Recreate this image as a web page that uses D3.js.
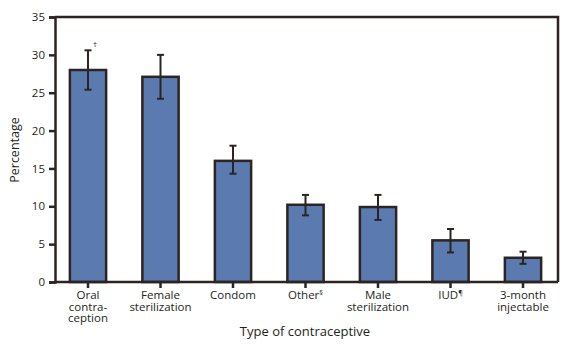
<!DOCTYPE html>
<html>
<head>
<meta charset="utf-8">
<script src="https://cdn.jsdelivr.net/npm/d3@7"></script>
<style>
  body { margin: 0; background: #fff; }
  text { font-family: "Open Sans", "Liberation Sans", sans-serif; fill: #231f20; }
</style>
</head>
<body>
<svg id="chart" width="577" height="346"></svg>
<script>
const categories = ["Oral|contra-|ception", "Female|sterilization", "Condom", "Other", "Male|sterilization", "IUD", "3-month|injectable"];
const marks = ["\u2020", "", "", "\u00a7", "", "\u00b6", ""];
const values = [28.0, 27.1, 16.0, 10.2, 9.9, 5.5, 3.2];
const upper = [30.6, 30.0, 18.0, 11.5, 11.5, 7.0, 4.0];
const lower = [25.4, 24.2, 14.3, 8.8, 8.2, 3.9, 2.4];
const yTicks = [0, 5, 10, 15, 20, 25, 30, 35];

const svg = d3.select("#chart");
const ink = "#2b2422";
const plotLeft = 55, plotRight = 558, plotTop = 17, plotBottom = 282;

const x = d3.scaleBand().domain(d3.range(categories.length)).range([51.75, 559.25])
  .paddingInner(0.5).paddingOuter(0.25);
const y = d3.scaleLinear().domain([0, 35]).range([plotBottom, plotTop]);

// frame (top and right edges)
svg.append("path")
  .attr("d", `M${plotLeft},${plotTop}H${plotRight}V${plotBottom}`)
  .attr("fill", "none").attr("stroke", ink).attr("stroke-width", 2.5);

// bars
svg.append("g").selectAll("rect").data(values).join("rect")
  .attr("x", (d, i) => x(i))
  .attr("y", d => y(d))
  .attr("width", x.bandwidth())
  .attr("height", d => y(0) - y(d))
  .attr("fill", "#5b7bb0")
  .attr("stroke", ink).attr("stroke-width", 2.5);

// error bars
const err = svg.append("g").attr("stroke", ink).attr("stroke-width", 2);
values.forEach((v, i) => {
  const cx = x(i) + x.bandwidth() / 2;
  err.append("line").attr("x1", cx).attr("x2", cx).attr("y1", y(upper[i])).attr("y2", y(lower[i]));
  err.append("line").attr("x1", cx - 3.5).attr("x2", cx + 3.5).attr("y1", y(upper[i])).attr("y2", y(upper[i]));
  err.append("line").attr("x1", cx - 3.5).attr("x2", cx + 3.5).attr("y1", y(lower[i])).attr("y2", y(lower[i]));
});

// dagger above first error bar
svg.append("text")
  .attr("x", x(0) + x.bandwidth() / 2 + 5).attr("y", y(upper[0]) - 3)
  .attr("font-size", 8).text(marks[0]);

// y axis
const yAxis = svg.append("g").attr("transform", `translate(${plotLeft},0)`)
  .call(d3.axisLeft(y).tickValues(yTicks).tickSize(6).tickPadding(4));
yAxis.select(".domain").attr("stroke", ink).attr("stroke-width", 2.5);
yAxis.selectAll(".tick line").attr("stroke", ink).attr("stroke-width", 2.5);
yAxis.selectAll(".tick text").attr("font-size", 11.5).attr("font-family", "Open Sans, sans-serif").attr("fill", "#231f20");

// x axis
const xAxis = svg.append("g").attr("transform", `translate(0,${plotBottom})`)
  .call(d3.axisBottom(x).tickSize(6).tickFormat(""));
xAxis.select(".domain").attr("d", `M${plotLeft},0H${plotRight}`).attr("stroke", ink).attr("stroke-width", 2.5);
xAxis.selectAll(".tick line").attr("stroke", ink).attr("stroke-width", 2.5);

// category labels, one text per line
categories.forEach((c, i) => {
  const cx = x(i) + x.bandwidth() / 2;
  c.split("|").forEach((ln, j) => {
    const t = svg.append("text").attr("text-anchor", "middle").attr("font-size", 11.5)
      .attr("x", cx).attr("y", 299 + j * 11.5).text(ln);
    if (j === 0 && marks[i] && i > 0) {
      t.append("tspan").attr("font-size", 7).attr("dy", -4).text(marks[i]);
    }
  });
});

// axis titles
svg.append("text").attr("x", 305).attr("y", 336).attr("text-anchor", "middle")
  .attr("font-size", 13).text("Type of contraceptive");
svg.append("text").attr("transform", "translate(19,150) rotate(-90)").attr("text-anchor", "middle")
  .attr("font-size", 12.5).text("Percentage");
</script>
</body>
</html>
